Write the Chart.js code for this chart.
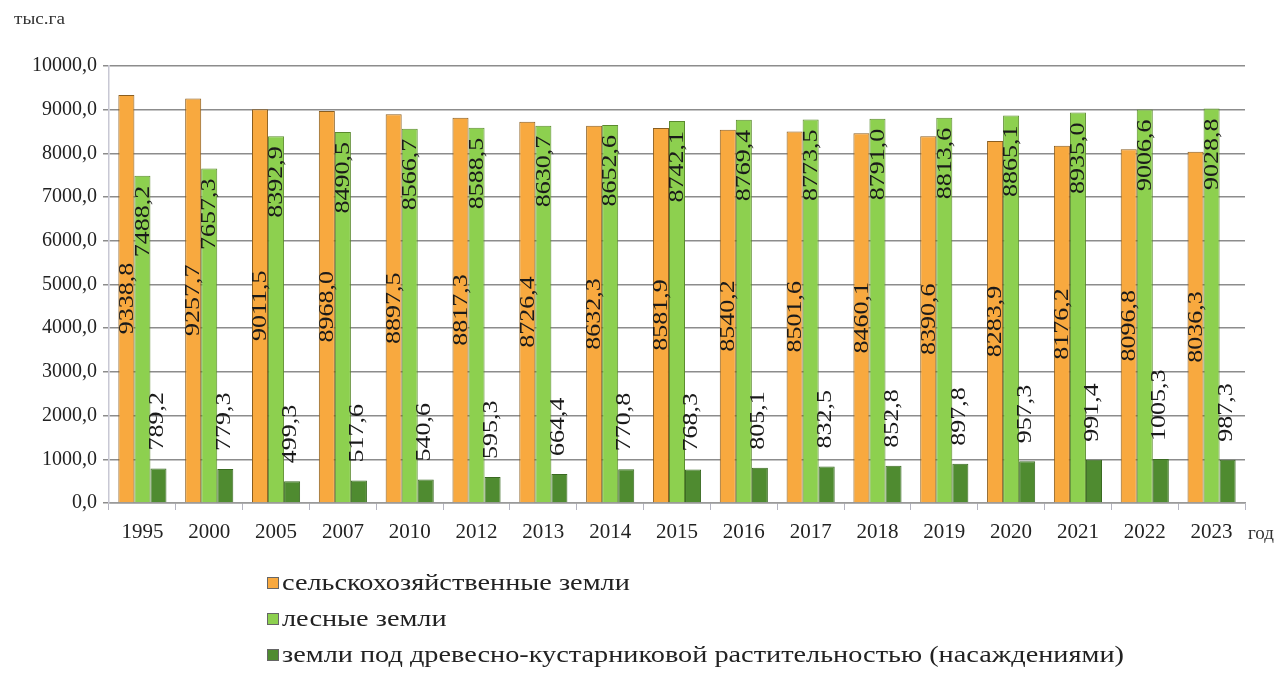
<!DOCTYPE html>
<html>
<head>
<meta charset="utf-8">
<script src="https://cdn.jsdelivr.net/npm/chart.js@4.4.1/dist/chart.umd.min.js"></script>
<style>
body{margin:0;background:#fff;font-family:"Liberation Serif",serif;color:#222;}
#wrap{position:relative;width:1285px;height:673px;}
#unit{position:absolute;left:14px;top:10px;font-size:16px;color:#333;transform:scaleX(1.2);transform-origin:left top;}
#god{position:absolute;left:1248px;top:522px;font-size:19px;color:#333;}
#legend{position:absolute;left:267px;top:565px;font-size:23px;line-height:36px;}
#legend .item{display:flex;align-items:center;white-space:nowrap;}
#legend .box{width:10px;height:10px;margin-right:3px;border:1px solid #666;flex:none;}
#legend .txt{display:inline-block;transform:scaleX(1.23);transform-origin:left center;}
</style>
</head>
<body>
<div id="wrap">
  <canvas id="landChart" width="1285" height="673"></canvas>
  <div id="unit">тыс.га</div>
  <div id="god">год</div>
  <div id="legend"></div>
</div>
<script>
// DATA
const years=['1995','2000','2005','2007','2010','2012','2013','2014','2015','2016','2017','2018','2019','2020','2021','2022','2023'];
const agriLand=[9338.8,9257.7,9011.5,8968.0,8897.5,8817.3,8726.4,8632.3,8581.9,8540.2,8501.6,8460.1,8390.6,8283.9,8176.2,8096.8,8036.3];
const forestLand=[7488.2,7657.3,8392.9,8490.5,8566.7,8588.5,8630.7,8652.6,8742.1,8769.4,8773.5,8791.0,8813.6,8865.1,8935.0,9006.6,9028.8];
const shrubLand=[789.2,779.3,499.3,517.6,540.6,595.3,664.4,770.8,768.3,805.1,832.5,852.8,897.8,957.3,991.4,1005.3,987.3];
const seriesNames=['сельскохозяйственные земли','лесные земли','земли под древесно-кустарниковой растительностью (насаждениями)'];
const yTicks=[0,1000,2000,3000,4000,5000,6000,7000,8000,9000,10000];

const fmt=v=>v.toFixed(1).replace('.',',');

// LABELS ON BARS
const barLabels={
  id:'barLabels',
  afterDatasetsDraw(chart){
    const ctx=chart.ctx;
    ctx.save();
    ctx.font='20px "Liberation Serif", serif';
    ctx.fillStyle='#1a1a1a';
    ctx.textBaseline='middle';
    chart.data.datasets.forEach((ds,i)=>{
      chart.getDatasetMeta(i).data.forEach((bar,j)=>{
        const txt=fmt(ds.data[j]);
        ctx.save();
        if(i===0){
          ctx.translate(bar.x,(bar.y+bar.base)/2);
          ctx.textAlign='center';
        }else if(i===1){
          ctx.translate(bar.x,bar.y+10);
          ctx.textAlign='right';
        }else{
          ctx.translate(bar.x-2,bar.y-18);
          ctx.textAlign='left';
        }
        ctx.rotate(-Math.PI/2);
        ctx.scale(1.3,1);
        ctx.fillText(txt,0,1);
        ctx.restore();
      });
    });
    ctx.restore();
  }
};

const chart=new Chart(document.getElementById('landChart').getContext('2d'),{
  type:'bar',
  data:{
    labels:years,
    datasets:[
      {label:seriesNames[0],data:agriLand,backgroundColor:'#f8a93f',borderColor:'#8a5e20',borderWidth:1},
      {label:seriesNames[1],data:forestLand,backgroundColor:'#8dd04f',borderColor:'#5b8a2e',borderWidth:1},
      {label:seriesNames[2],data:shrubLand,backgroundColor:'#4f8b30',borderColor:'#3a6a22',borderWidth:1}
    ]
  },
  options:{
    responsive:false,
    animation:false,
    categoryPercentage:0.72,
    barPercentage:1.0,
    layout:{padding:{left:0,top:66,right:40,bottom:125}},
    plugins:{legend:{display:false},tooltip:{enabled:false}},
    scales:{
      x:{
        grid:{offset:true,drawOnChartArea:false,tickLength:7,color:'#b4b4c0'},
        border:{color:'#9a9a9a',width:1.5},
        ticks:{color:'#222',font:{family:'"Liberation Serif", serif',size:21},padding:10,maxRotation:0},
        afterFit:s=>{s.height=45;}
      },
      y:{
        min:0,max:10000,
        afterBuildTicks:s=>{s.ticks=yTicks.map(v=>({value:v}));},
        grid:{color:'#8c8c8c',lineWidth:1.5,tickLength:6},
        border:{color:'#c8c8d4',width:1.5},
        ticks:{color:'#222',font:{family:'"Liberation Serif", serif',size:20},padding:6,callback:v=>fmt(v)},
        afterFit:s=>{s.width=109;}
      }
    }
  },
  plugins:[barLabels]
});

// LEGEND
const legend=document.getElementById('legend');
chart.data.datasets.forEach(ds=>{
  const item=document.createElement('div');
  item.className='item';
  item.innerHTML='<span class="box" style="background:'+ds.backgroundColor+'"></span><span class="txt">'+ds.label+'</span>';
  legend.appendChild(item);
});
</script>
</body>
</html>
